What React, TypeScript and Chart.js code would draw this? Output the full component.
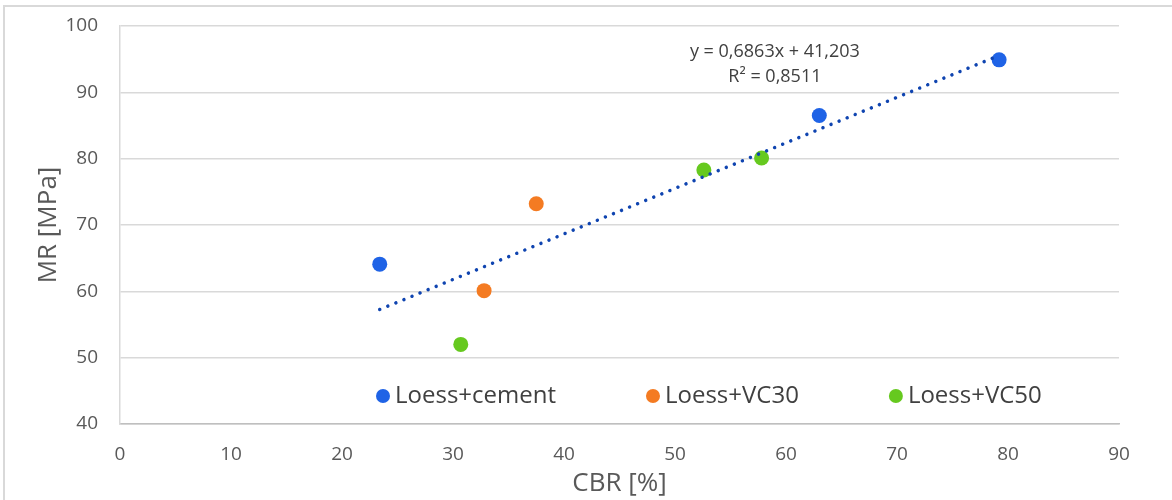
import React, { useEffect, useRef } from 'react';
import { Chart, registerables } from 'chart.js';

Chart.register(...registerables);

// ---- data ----
const SERIES_NAMES = ['Loess+cement', 'Loess+VC30', 'Loess+VC50'];
const SERIES_COLORS = ['#1f63e6', '#f47b22', '#66c91f'];
const CEMENT_CBR = [23.4, 63.0, 79.2];
const CEMENT_MR = [64.1, 86.5, 94.9];
const VC30_CBR = [32.8, 37.5];
const VC30_MR = [60.1, 73.2];
const VC50_CBR = [30.7, 52.6, 57.8];
const VC50_MR = [52.0, 78.3, 80.1];
const TREND_SLOPE = 0.6863;
const TREND_INTERCEPT = 41.203;
const TREND_X_RANGE = [23.4, 79.2];
const TREND_LABELS = ['y = 0,6863x + 41,203', 'R² = 0,8511'];
const TREND_LABEL_ANCHOR = [59.0, 96.1];
const X_TITLE = 'CBR [%]';
const Y_TITLE = 'MR [MPa]';
const X_MIN = 0, X_MAX = 90, X_STEP = 10;
const Y_MIN = 40, Y_MAX = 100, Y_STEP = 10;

const FONT = "'Open Sans', 'DejaVu Sans', sans-serif";
const TEXT_GRAY = '#595959';
const GRID = '#d9d9d9';
const TREND_COLOR = '#0f44b0';

const toPoints = (xs: number[], ys: number[]) => xs.map((x, i) => ({ x, y: ys[i] }));

const overlayPlugin = {
  id: 'overlay',
  afterDatasetsDraw(chart: any) {
    const { ctx, chartArea, scales } = chart;
    ctx.save();
    // trendline equation
    ctx.font = `18px ${FONT}`;
    ctx.fillStyle = '#404040';
    ctx.textAlign = 'center';
    ctx.textBaseline = 'middle';
    const ex = scales.x.getPixelForValue(TREND_LABEL_ANCHOR[0]);
    const ey = scales.y.getPixelForValue(TREND_LABEL_ANCHOR[1]);
    TREND_LABELS.forEach((t, i) => ctx.fillText(t, ex, ey + i * 25));

    // legend
    ctx.font = `24px ${FONT}`;
    ctx.textAlign = 'left';
    const ly = chartArea.bottom - 28;
    let lx = chartArea.left + 256;
    SERIES_NAMES.forEach((name, i) => {
      ctx.beginPath();
      ctx.fillStyle = SERIES_COLORS[i];
      ctx.arc(lx + 7, ly, 7, 0, Math.PI * 2);
      ctx.fill();
      ctx.fillStyle = '#404040';
      ctx.fillText(name, lx + 19, ly);
      lx += 19 + ctx.measureText(name).width + 90;
    });
    ctx.restore();
  },
};

export default function App() {
  const ref = useRef<HTMLCanvasElement>(null);
  useEffect(() => {
    if (!ref.current) return;
    const trend = TREND_X_RANGE.map((x) => ({ x, y: TREND_SLOPE * x + TREND_INTERCEPT }));
    const chart = new Chart(ref.current, {
      type: 'scatter',
      data: {
        datasets: [
          {
            label: 'trend',
            data: trend,
            showLine: true,
            borderColor: TREND_COLOR,
            borderWidth: 3.5,
            borderDash: [0.01, 8.7],
            borderCapStyle: 'round',
            pointRadius: 0,
            order: 0,
          } as any,
          {
            label: SERIES_NAMES[0],
            data: toPoints(CEMENT_CBR, CEMENT_MR),
            backgroundColor: SERIES_COLORS[0],
            borderColor: SERIES_COLORS[0],
            pointRadius: 7.5,
            borderWidth: 0,
            order: 1,
          },
          {
            label: SERIES_NAMES[1],
            data: toPoints(VC30_CBR, VC30_MR),
            backgroundColor: SERIES_COLORS[1],
            borderColor: SERIES_COLORS[1],
            pointRadius: 7.5,
            borderWidth: 0,
            order: 1,
          },
          {
            label: SERIES_NAMES[2],
            data: toPoints(VC50_CBR, VC50_MR),
            backgroundColor: SERIES_COLORS[2],
            borderColor: SERIES_COLORS[2],
            pointRadius: 7.5,
            borderWidth: 0,
            order: 1,
          },
        ],
      },
      options: {
        animation: false,
        responsive: false,
        layout: { padding: { left: 0, right: 53, top: 26, bottom: 0 } },
        plugins: { legend: { display: false }, tooltip: { enabled: false } },
        scales: {
          x: {
            type: 'linear',
            min: X_MIN,
            max: X_MAX,
            ticks: { stepSize: X_STEP, color: TEXT_GRAY, font: { family: FONT, size: 19 }, padding: 19 },
            grid: { display: false, drawTicks: false },
            border: { display: true, color: '#bfbfbf', width: 1.5 },
            title: {
              display: true,
              text: X_TITLE,
              color: TEXT_GRAY,
              font: { family: FONT, size: 26 },
              padding: { top: 0, bottom: 1 },
            },
            afterFit: (s: any) => {
              s.height = 76;
              s.paddingLeft = 0;
              s.paddingRight = 0;
              s.paddingTop = 0;
              s.paddingBottom = 0;
            },
          },
          y: {
            type: 'linear',
            min: Y_MIN,
            max: Y_MAX,
            ticks: { stepSize: Y_STEP, color: TEXT_GRAY, font: { family: FONT, size: 19 }, padding: 22 },
            grid: { color: GRID, lineWidth: 1.5, drawTicks: false },
            border: { display: true, color: GRID, width: 1.5 },
            title: {
              display: true,
              text: Y_TITLE,
              color: TEXT_GRAY,
              font: { family: FONT, size: 26 },
              padding: { top: 33, bottom: 0 },
            },
            afterFit: (s: any) => {
              s.width = 120;
              s.paddingLeft = 0;
              s.paddingRight = 0;
              s.paddingTop = 0;
              s.paddingBottom = 0;
            },
          },
        },
      } as any,
      plugins: [overlayPlugin],
    });
    return () => chart.destroy();
  }, []);

  return (
    <div style={{ position: 'absolute', left: 0, top: 0, width: 1172, height: 500, background: '#fff', overflow: 'hidden' }}>
      <div
        style={{
          position: 'absolute',
          left: 3,
          top: 5,
          right: -10,
          bottom: -10,
          borderLeft: '2px solid #d9d9d9',
          borderTop: '2px solid #d9d9d9',
        }}
      />
      <canvas ref={ref} width={1172} height={500} style={{ position: 'absolute', left: 0, top: 0, width: 1172, height: 500 }} />
    </div>
  );
}
